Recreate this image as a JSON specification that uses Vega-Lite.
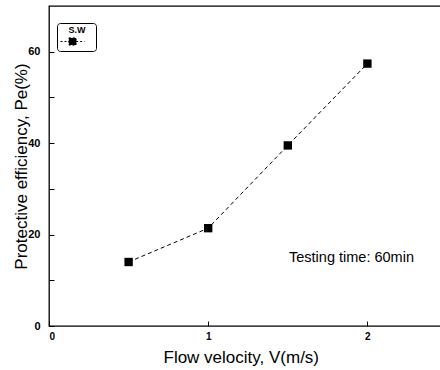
{
  "$schema": "https://vega.github.io/schema/vega-lite/v6.json",
  "autosize": "none",
  "padding": {"left": 49, "top": 6, "right": 0, "bottom": 44},
  "width": 398,
  "height": 320,
  "config": {
    "font": "Liberation Sans",
    "view": {"stroke": "black", "strokeWidth": 1.3},
    "axis": {"grid": false, "domain": false, "tickColor": "black", "labelColor": "black", "titleColor": "black", "titleFontWeight": "normal"}
  },
  "datasets": {
    "pts": [
      {"v": 0.5, "pe": 14.0, "series": "S.W"},
      {"v": 1.0, "pe": 21.4, "series": "S.W"},
      {"v": 1.5, "pe": 39.5, "series": "S.W"},
      {"v": 2.0, "pe": 57.4, "series": "S.W"}
    ],
    "note": [{"v": 1.9, "pe": 14.9, "label": "Testing time: 60min"}]
  },
  "layer": [
    {
      "data": {"name": "pts"},
      "mark": {"type": "line", "color": "black", "strokeWidth": 1, "strokeDash": [4, 3]},
      "encoding": {
        "x": {"field": "v", "type": "quantitative", "scale": {"domain": [0, 2.5], "nice": false},
          "axis": {"values": [0, 1, 2], "format": "d", "tickSize": -5, "labelPadding": 10, "labelFontSize": 10, "labelFontWeight": "bold", "title": "Flow velocity, V(m/s)", "titleFontSize": 17, "titlePadding": 8, "titleAnchor": "start", "titleX": 114}},
        "y": {"field": "pe", "type": "quantitative", "scale": {"domain": [0, 70], "nice": false},
          "axis": {"values": [0, 10, 20, 30, 40, 50, 60], "labelExpr": "datum.value % 20 == 0 ? datum.label : ''", "tickSize": -5, "labelPadding": 14, "labelFontSize": 11, "labelFontWeight": "bold", "title": "Protective efficiency, Pe(%)", "titleFontSize": 17, "titlePadding": -3}}
      }
    },
    {
      "data": {"name": "pts"},
      "mark": {"type": "point", "shape": "square", "filled": true, "size": 70, "opacity": 1},
      "encoding": {
        "x": {"field": "v", "type": "quantitative"},
        "y": {"field": "pe", "type": "quantitative"},
        "color": {"field": "series", "type": "nominal", "scale": {"range": ["black"]},
          "legend": {"title": "S.W", "orient": "none", "legendX": 8, "legendY": 17, "labelExpr": "''", "labelFontSize": 1, "labelOffset": 16, "symbolOffset": 8,
            "titleFontSize": 9, "titleFontWeight": "bold", "titleAnchor": "middle", "titlePadding": 2, "titleBaseline": "top",
            "symbolType": "M-3,0H-0.9M0.9,0H3M-0.9,-0.9H0.9V0.9H-0.9Z", "symbolSize": 64, "symbolStrokeWidth": 1, "symbolDash": [2, 2], "symbolFillColor": "black", "symbolStrokeColor": "black",
            "strokeColor": "black", "cornerRadius": 3, "padding": 3, "fillColor": "white"}}
      }
    },
    {
      "data": {"name": "note"},
      "mark": {"type": "text", "fontSize": 14.5, "color": "black", "align": "center", "baseline": "middle"},
      "encoding": {
        "x": {"field": "v", "type": "quantitative"},
        "y": {"field": "pe", "type": "quantitative"},
        "text": {"field": "label"}
      }
    }
  ]
}
